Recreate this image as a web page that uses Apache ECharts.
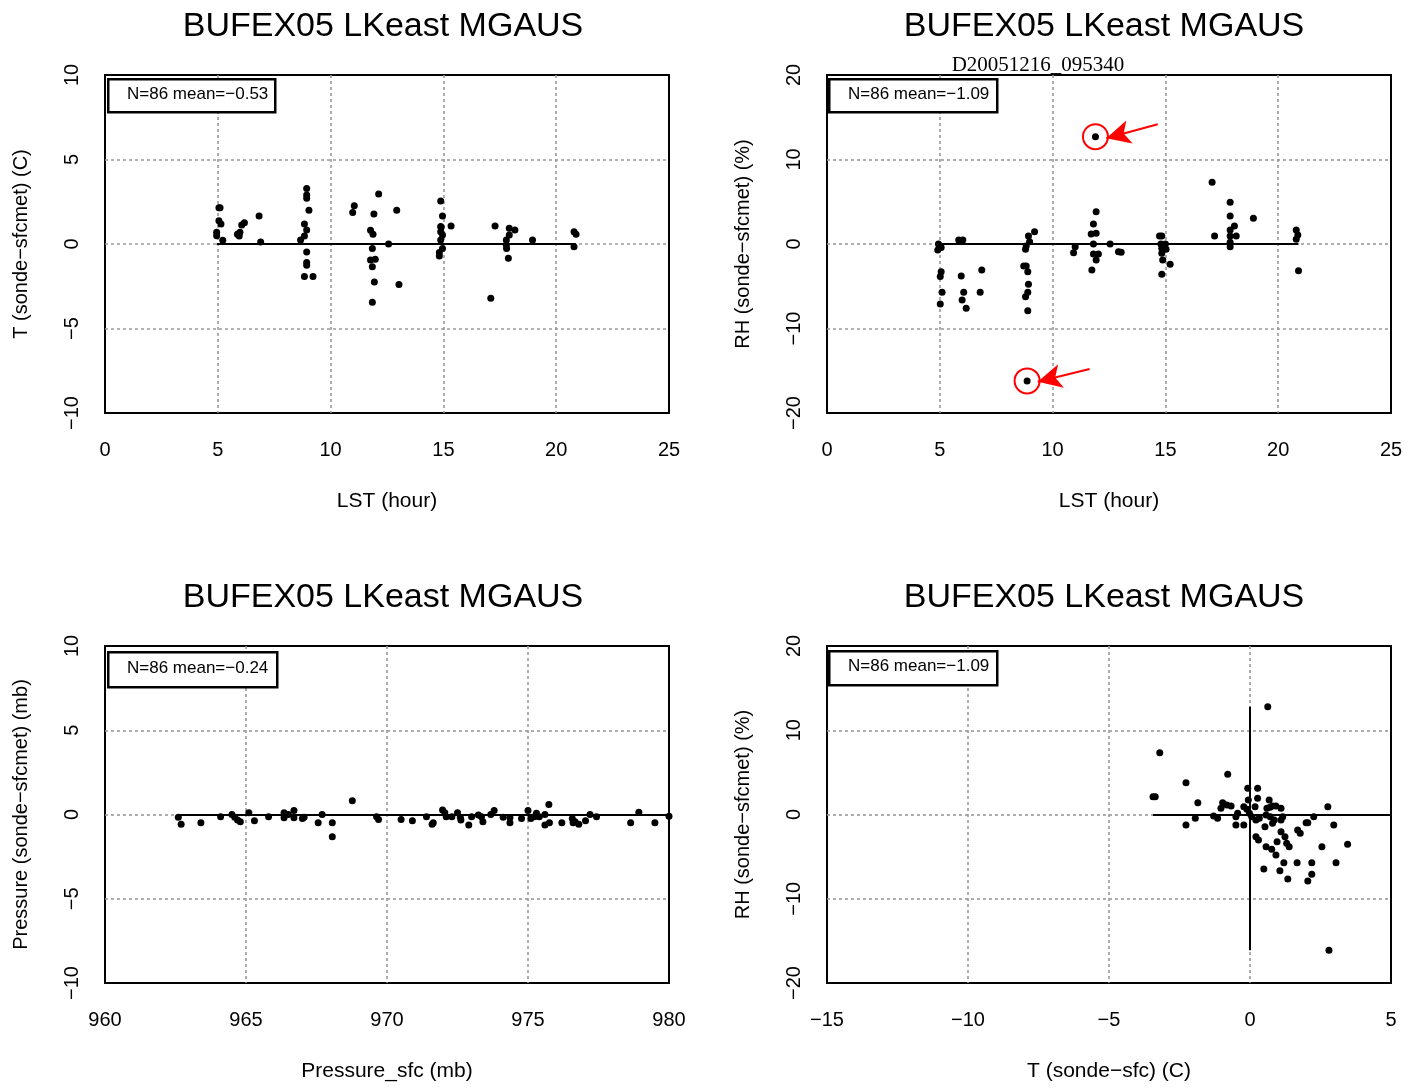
<!DOCTYPE html>
<html><head><meta charset="utf-8">
<script src="https://cdn.jsdelivr.net/npm/echarts@6/dist/echarts.min.js"></script>
<style>html,body{margin:0;padding:0;background:#fff}#c{width:1419px;height:1090px}</style>
</head><body><div id="c"></div>
<script>
// ---- Data ----
const titleText = 'BUFEX05 LKeast MGAUS';
const stampText = 'D20051216_095340';
const statLabels = ['N=86 mean=\u22120.53', 'N=86 mean=\u22121.09', 'N=86 mean=\u22120.24', 'N=86 mean=\u22121.09'];
const xNames = ['LST (hour)', 'LST (hour)', 'Pressure_sfc (mb)', 'T (sonde\u2212sfc) (C)'];
const yNames = ['T (sonde\u2212sfcmet) (C)', 'RH (sonde\u2212sfcmet) (%)', 'Pressure (sonde\u2212sfcmet) (mb)', 'RH (sonde\u2212sfcmet) (%)'];

// T diff vs LST
const tVsLst = [[5.05,2.15],[5.1,2.15],[5.05,1.38],[5.14,1.18],[4.95,0.69],[4.95,0.49],[5.22,0.22],
[5.87,0.57],[5.95,0.47],[5.98,0.69],[6.06,1.12],[6.18,1.26],[6.83,1.66],[6.9,0.12],
[8.94,3.29],[8.94,2.9],[8.94,2.7],[9.04,1.99],[8.84,1.18],[8.94,0.83],[8.84,0.47],[8.67,0.24],[8.94,-0.47],[8.94,-1.1],[8.94,-1.25],[8.84,-1.93],[9.22,-1.93],
[10.98,1.87],[11.05,2.27],[12.13,2.96],[11.92,1.78],[12.93,1.99],[11.77,0.81],[11.88,0.57],[12.57,0.0],[11.85,-0.26],[11.77,-0.95],[11.98,-0.9],[11.85,-1.34],[11.94,-2.25],[13.03,-2.39],[11.85,-3.45],
[14.88,2.54],[14.96,1.66],[14.88,1.03],[15.34,1.06],[14.88,0.73],[14.96,0.53],[14.88,0.24],[14.96,-0.26],[14.82,-0.5],[14.82,-0.71],[14.9,0.99],
[17.29,1.06],[17.92,0.93],[18.17,0.83],[17.92,0.53],[17.79,0.24],[17.79,-0.06],[17.8,-0.26],[17.88,-0.85],[18.95,0.24],[17.1,-3.21],
[20.79,0.73],[20.88,0.57],[20.79,-0.16]];

// RH diff vs LST
const rhVsLst = [[4.94,0],[5.06,-0.4],[4.91,-0.71],[5.06,-3.27],[5.02,-3.86],[5.1,-5.72],[5.02,-7.1],
[5.84,0.47],[6.02,0.47],[5.95,-3.79],[6.06,-5.72],[5.99,-6.63],[6.17,-7.61],[6.86,-3.08],[6.79,-5.72],
[8.72,-2.6],[8.83,-2.6],[8.9,-3.27],[8.93,-4.77],[8.9,-5.72],[8.8,-6.23],[8.9,-7.89],[8.93,0.95],[9.2,1.46],[8.98,0.28],[8.83,-0.24],[8.8,-0.63],[8.87,-16.2],
[11.0,-0.32],[10.93,-1.03],[11.93,3.82],[11.81,2.37],[11.71,1.18],[11.93,1.26],[11.81,0],[11.81,-1.18],[12.03,-1.18],[11.93,-1.89],[11.74,-3.08],[12.55,0],[12.92,-0.91],[13.04,-0.98],[11.9,12.7],
[14.74,0.95],[14.84,0.95],[14.8,0],[15.0,0],[14.84,-0.51],[15.03,-0.63],[14.84,-1.1],[14.88,-1.89],[15.21,-2.4],[14.84,-3.59],
[17.07,7.3],[17.18,0.95],[17.87,4.93],[17.87,3.31],[18.06,2.13],[17.87,1.66],[17.87,0.95],[18.14,0.95],[17.87,0.2],[17.87,-0.32],[18.9,3.04],
[20.8,1.66],[20.87,1.07],[20.8,0.55],[20.9,-3.16]];

// circled outliers and their arrows (tail -> tip)
const circledPoints = [[11.9,12.7],[8.87,-16.2]];
const arrowPairs = [[[14.66,14.17],[12.38,12.51]],[[11.64,-14.79],[9.34,-16.3]]];

// Pressure diff vs surface pressure
const pVsP = [[962.6,-0.17],[962.7,-0.58],[963.4,-0.49],[964.1,-0.13],[964.5,0.0],[964.6,-0.17],[964.7,-0.33],[964.8,-0.43],
[965.1,0.11],[965.3,-0.37],[965.8,-0.13],[966.35,0.11],[966.35,-0.2],[966.5,0],[966.7,0.23],[966.7,-0.2],[967.0,-0.23],[967.06,-0.17],
[967.56,-0.49],[967.7,0],[968.06,-0.49],[968.06,-1.32],[968.77,0.82],[969.63,-0.13],[969.7,-0.29],[970.5,-0.29],[970.9,-0.37],
[971.4,-0.13],[971.6,-0.58],[971.64,-0.49],[971.97,0.27],[972.05,0.11],[972.1,-0.13],[972.3,-0.13],[972.5,0.11],[972.6,-0.17],[972.62,-0.33],
[972.9,-0.62],[973.0,-0.13],[973.24,-0.03],[973.35,-0.13],[973.4,-0.43],[973.8,0.23],[973.68,0],[974.12,-0.17],[974.36,-0.49],[974.36,-0.2],
[974.77,-0.23],[975.0,0.23],[975.1,-0.23],[975.23,-0.13],[975.3,0.07],[975.4,-0.13],[975.6,0],[975.6,-0.62],[975.74,0.6],[975.76,-0.49],
[976.2,-0.49],[976.6,-0.49],[976.57,-0.23],[976.67,-0.43],[976.8,-0.58],[977.04,-0.37],[977.2,0],[977.43,-0.13],[978.64,-0.49],[978.93,0.13],
[979.5,-0.49],[980.0,-0.1]];

// RH diff vs T diff
const rhVsT = [[0.63,12.8],[-3.2,7.34],[-3.36,2.11],[-2.27,3.78],[-0.79,4.77],[-1.85,1.4],[-2.27,-1.25],[-1.94,-0.45],
[-1.29,-0.18],[-1.15,-0.45],[-0.97,1.4],[-0.82,1.13],[-0.67,1.0],[-1.03,0.73],[-0.44,0.14],[-0.5,-0.26],[-0.5,-1.25],[-0.22,-1.25],
[-0.22,0.93],[-0.11,0.62],[-0.08,3.11],[0.27,3.11],[-0.06,1.72],[0.27,1.92],[0.18,0.93],[-0.02,0.14],[0.06,-0.26],[0.21,-0.65],[0.33,-0.45],
[0.68,1.72],[0.6,0.73],[0.71,0.85],[0.8,1.01],[0.92,1.01],[1.1,0.73],[0.57,-0.06],[0.72,-0.26],[0.86,-0.65],[1.16,-0.26],[1.1,-0.65],
[0.53,-1.45],[0.8,-1.05],[0.21,-2.63],[0.3,-3.03],[0.57,-3.82],[0.77,-4.13],[0.92,-4.81],[0.96,-3.23],[1.1,-2.04],[1.24,-2.63],[1.3,-3.42],[1.39,-3.82],
[1.69,-1.84],[1.78,-2.23],[1.99,-0.97],[2.05,-0.97],[2.26,-0.26],[1.2,-5.72],[1.67,-5.72],[2.19,-5.72],[3.05,-5.72],
[0.49,-6.47],[1.06,-6.67],[1.34,-7.66],[2.05,-7.89],[2.19,-7.1],[2.55,-3.82],[3.46,-3.54],[2.76,0.93],[2.97,-1.25],[2.8,-16.1],[-3.44,2.1]];

// axis ranges / ticks
const xRanges = [[0,25,5],[0,25,5],[960,980,5],[-15,5,5]];
const yRanges = [[-10,10,5],[-20,20,10],[-10,10,5],[-20,20,10]];

// ---- Chart ----
const FONT = '"Liberation Sans", Arial, Helvetica, sans-serif';
const grids = [
  {left:105, top:75, width:564, height:338},
  {left:827, top:75, width:564, height:338},
  {left:105, top:646, width:564, height:337},
  {left:827, top:646, width:564, height:337}
];
const minus = v => String(v).replace('-', '\u2212');
const split = {show:true, showMinLine:false, showMaxLine:false, lineStyle:{color:'#9a9a9a', width:1.6, type:[3,3]}};

const xAxis = xRanges.map((r,i)=>({
  type:'value', gridIndex:i, min:r[0], max:r[1], interval:r[2],
  axisLine:{show:false}, axisTick:{show:false}, splitLine:split,
  axisLabel:{color:'#000', fontFamily:FONT, fontSize:20, margin:27, formatter:minus},
  name:xNames[i], nameLocation:'middle', nameGap:78,
  nameTextStyle:{color:'#000', fontFamily:FONT, fontSize:21}
}));
const yAxis = yRanges.map((r,i)=>({
  type:'value', gridIndex:i, min:r[0], max:r[1], interval:r[2],
  axisLine:{show:false}, axisTick:{show:false}, splitLine:split,
  axisLabel:{color:'#000', fontFamily:FONT, fontSize:20, margin:23, rotate:90, formatter:minus},
  name:yNames[i], nameLocation:'middle', nameGap:74,
  nameTextStyle:{color:'#000', fontFamily:FONT, fontSize:20}
}));

const zeroLineStyle = {color:'#000', width:2, type:'solid', opacity:1};
function hZero(data, xEnd){
  const xs = data.map(d=>d[0]);
  return [[{coord:[Math.min(...xs),0]},{coord:[xEnd!==undefined?xEnd:Math.max(...xs),0]}]];
}
function scatter(i, data, extraLines){
  return {
    type:'scatter', xAxisIndex:i, yAxisIndex:i, data:data, symbolSize:7,
    itemStyle:{color:'#000', opacity:1}, silent:true, z:3,
    markLine:{silent:true, symbol:['none','none'], label:{show:false},
      lineStyle:zeroLineStyle, data:hZero(data, extraLines && extraLines.xEnd).concat(extraLines && extraLines.more || [])}
  };
}
const brYs = rhVsT.map(d=>d[1]);

const series = [
  scatter(0, tVsLst),
  scatter(1, rhVsLst),
  scatter(2, pVsP),
  scatter(3, rhVsT, {xEnd:xRanges[3][1], more:[[{coord:[0,Math.min(...brYs)]},{coord:[0,Math.max(...brYs)]}]]}),
  {type:'scatter', xAxisIndex:1, yAxisIndex:1, data:circledPoints, symbolSize:25, silent:true,
   itemStyle:{color:'rgba(0,0,0,0)', borderColor:'#ff0000', borderWidth:2, opacity:1},
   markLine:{silent:true, symbol:['none','arrow'], symbolSize:[18,24], label:{show:false},
     lineStyle:{color:'#ff0000', width:2, type:'solid', opacity:1},
     itemStyle:{color:'#ff0000'},
     data:arrowPairs.map(p=>[{coord:p[0]},{coord:p[1]}])}}
];

const titles = [
  {text:titleText, left:378, top:5, textAlign:'center'},
  {text:titleText, left:1099, top:5, textAlign:'center'},
  {text:titleText, left:378, top:576, textAlign:'center'},
  {text:titleText, left:1099, top:576, textAlign:'center'}
].map(t=>Object.assign(t,{textStyle:{color:'#000', fontFamily:FONT, fontSize:34, fontWeight:'normal'}}));
titles.push({text:stampText, left:1033, top:50, textAlign:'center',
  textStyle:{color:'#000', fontFamily:'"Liberation Serif", "Times New Roman", serif', fontSize:21, fontWeight:'normal'}});

const boxes = [[107,78,167,33],[828,78,168,33],[107,651,169,35],[828,650,168,34]];
const graphic = [];
boxes.forEach((b,i)=>{
  graphic.push({type:'rect', left:b[0], top:b[1], shape:{width:b[2], height:b[3]},
    style:{fill:'#fff', stroke:'#000', lineWidth:2.5}, z:100});
  graphic.push({type:'text', left:b[0]+20, top:b[1]+b[3]/2-9,
    style:{text:statLabels[i], fill:'#000', font:'17px ' + FONT}, z:101});
});

const chart = echarts.init(document.getElementById('c'), null, {renderer:'canvas'});
chart.setOption({
  animation:false,
  backgroundColor:'#fff',
  title:titles,
  grid:grids.map(g=>Object.assign({show:true, borderColor:'#000', borderWidth:2, backgroundColor:'transparent'}, g)),
  xAxis:xAxis, yAxis:yAxis, series:series, graphic:graphic
});
</script></body></html>
